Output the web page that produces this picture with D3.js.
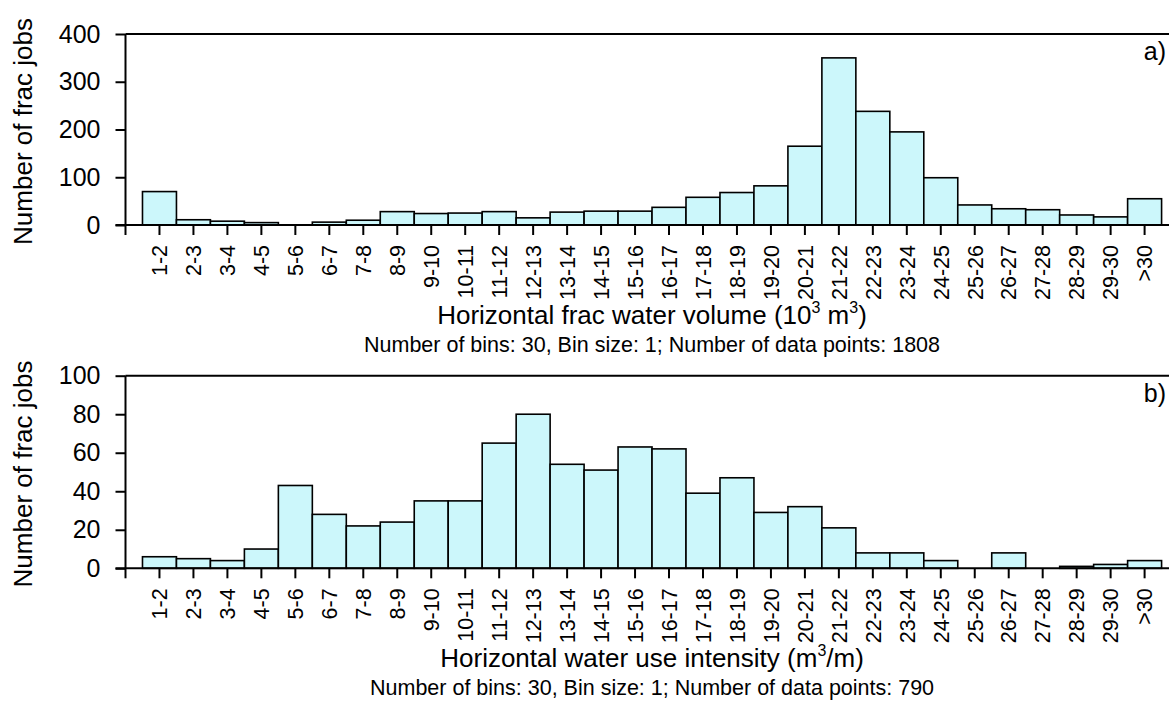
<!DOCTYPE html>
<html>
<head>
<meta charset="utf-8">
<script src="https://cdn.jsdelivr.net/npm/d3@7"></script>
<style>
  html, body { margin: 0; padding: 0; background: #fff; }
  svg { display: block; font-family: "Liberation Sans", Arial, sans-serif; }
</style>
</head>
<body>
<svg id="chart" width="1169" height="702"></svg>
<script>
// Bin labels shared by both histograms
const binLabels = ["1-2","2-3","3-4","4-5","5-6","6-7","7-8","8-9","9-10","10-11",
  "11-12","12-13","13-14","14-15","15-16","16-17","17-18","18-19","19-20","20-21",
  "21-22","22-23","23-24","24-25","25-26","26-27","27-28","28-29","29-30",">30"];

// a) horizontal frac water volume (10^3 m^3), 1808 jobs
const volumeCounts = [70, 11, 8, 5, 0, 6, 10, 28, 24, 25,
  28, 15, 27, 29, 29, 37, 58, 68, 82, 165,
  350, 238, 195, 99, 42, 34, 32, 21, 17, 55];

// b) horizontal water use intensity (m^3/m), 790 jobs
const intensityCounts = [6, 5, 4, 10, 43, 28, 22, 24, 35, 35,
  65, 80, 54, 51, 63, 62, 39, 47, 29, 32,
  21, 8, 8, 4, 0, 8, 0, 1, 2, 4];

const volumeTicks = [0, 100, 200, 300, 400];
const intensityTicks = [0, 20, 40, 60, 80, 100];

const svg = d3.select("#chart");
const W = 1169;
const x0 = 125.5;        // left axis position
const slot = 33.97;      // width of one bin
const barFill = "#ccf7fb";
const FONT = "Liberation Sans, Arial, sans-serif";

function drawPanel(cfg) {
  const g = svg.append("g");
  const y = d3.scaleLinear().domain([0, cfg.yMax]).range([cfg.bottom, cfg.top]);
  const x = d3.scaleBand()
    .domain(binLabels)
    .range([x0 + slot / 2, x0 + slot * (binLabels.length + 0.5)])
    .padding(0);

  // bars
  g.append("g").selectAll("rect")
    .data(cfg.counts)
    .join("rect")
    .attr("x", (d, i) => x(binLabels[i]))
    .attr("y", d => y(d))
    .attr("width", x.bandwidth())
    .attr("height", d => cfg.bottom - y(d))
    .attr("fill", barFill)
    .attr("stroke", "#000")
    .attr("stroke-width", 1.6);

  // top frame line
  g.append("line")
    .attr("x1", x0).attr("x2", W)
    .attr("y1", cfg.top).attr("y2", cfg.top)
    .attr("stroke", "#000").attr("stroke-width", 2);

  // y axis
  const yAxis = d3.axisLeft(y).tickValues(cfg.yTicks).tickSize(10).tickPadding(15)
    .tickFormat(d3.format("d"));
  const ya = g.append("g").attr("transform", `translate(${x0},0)`).call(yAxis);
  ya.select(".domain").remove();
  ya.selectAll(".tick line").attr("stroke-width", 2);
  ya.selectAll(".tick text").attr("font-size", 25).attr("fill", "#000")
    .attr("font-family", FONT);
  g.append("line")
    .attr("x1", x0).attr("x2", x0)
    .attr("y1", cfg.top).attr("y2", cfg.bottom + 10)
    .attr("stroke", "#000").attr("stroke-width", 2);

  // x axis
  const xAxis = d3.axisBottom(x).tickSize(10).tickSizeOuter(0);
  const xa = g.append("g").attr("transform", `translate(0,${cfg.bottom})`).call(xAxis);
  xa.select(".domain").remove();
  xa.selectAll(".tick line").attr("stroke-width", 2);
  xa.selectAll(".tick text")
    .attr("font-size", 21.5).attr("fill", "#000")
    .attr("font-family", FONT)
    .attr("text-anchor", "end")
    .attr("x", 0).attr("y", 0).attr("dy", "0.36em")
    .attr("transform", "translate(0,20) rotate(-90)");
  g.append("line")
    .attr("x1", x0 - 10).attr("x2", W)
    .attr("y1", cfg.bottom).attr("y2", cfg.bottom)
    .attr("stroke", "#000").attr("stroke-width", 2);

  // y axis title
  g.append("text")
    .attr("transform", `translate(32,${(cfg.top + cfg.bottom) / 2 + 2}) rotate(-90)`)
    .attr("text-anchor", "middle")
    .attr("font-size", 26)
    .text("Number of frac jobs");

  // panel letter
  g.append("text")
    .attr("x", 1166).attr("y", cfg.top + 26)
    .attr("text-anchor", "end")
    .attr("font-size", 25)
    .text(cfg.letter);

  // x axis title with superscripts
  const cx = x0 + slot * 31 / 2;
  const t = g.append("text")
    .attr("x", cx).attr("y", cfg.bottom + 99)
    .attr("text-anchor", "middle")
    .attr("font-size", 26);
  let lift = 0;
  cfg.title.forEach(part => {
    if (part.sup) {
      t.append("tspan").attr("dy", -11 - lift).attr("font-size", 16).text(part.sup);
      lift = -11;
    } else {
      t.append("tspan").attr("dy", -lift).text(part.text);
      lift = 0;
    }
  });

  // bin summary line
  g.append("text")
    .attr("x", cx).attr("y", cfg.bottom + 127)
    .attr("text-anchor", "middle")
    .attr("font-size", 21.5)
    .text(cfg.note);
}

drawPanel({
  top: 34, bottom: 225, yMax: 400, yTicks: volumeTicks,
  counts: volumeCounts, letter: "a)",
  title: [{text: "Horizontal frac water volume (10"}, {sup: "3"}, {text: " m"}, {sup: "3"}, {text: ")"}],
  note: "Number of bins: 30, Bin size: 1; Number of data points: 1808"
});

drawPanel({
  top: 375.7, bottom: 568.3, yMax: 100, yTicks: intensityTicks,
  counts: intensityCounts, letter: "b)",
  title: [{text: "Horizontal water use intensity (m"}, {sup: "3"}, {text: "/m)"}],
  note: "Number of bins: 30, Bin size: 1; Number of data points: 790"
});
</script>
</body>
</html>
